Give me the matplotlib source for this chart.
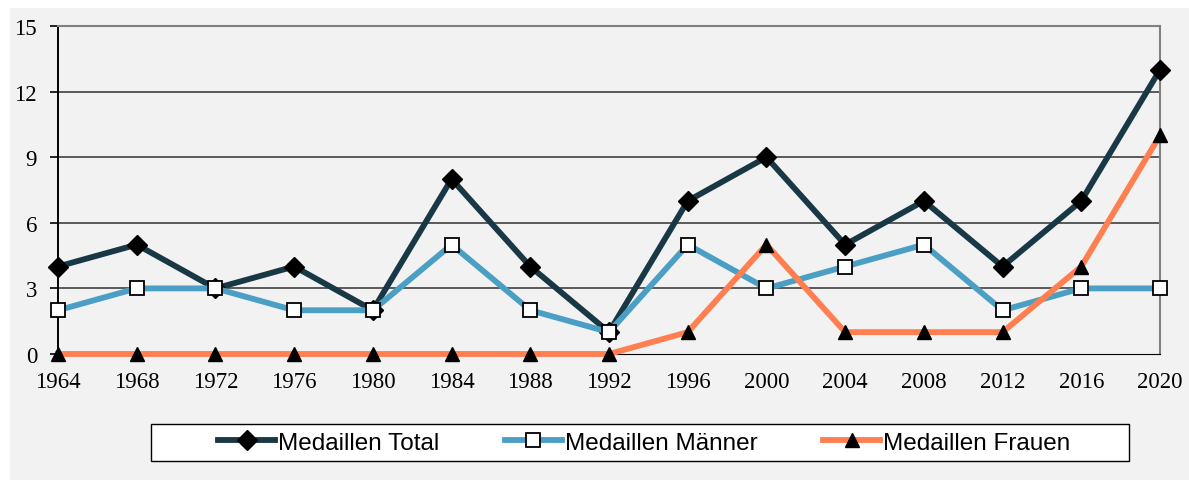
import matplotlib.pyplot as plt
from matplotlib.patches import Rectangle

years = [1964, 1968, 1972, 1976, 1980, 1984, 1988, 1992, 1996, 2000, 2004, 2008, 2012, 2016, 2020]
total = [4, 5, 3, 4, 2, 8, 4, 1, 7, 9, 5, 7, 4, 7, 13]
maenner = [2, 3, 3, 2, 2, 5, 2, 1, 5, 3, 4, 5, 2, 3, 3]
frauen = [0, 0, 0, 0, 0, 0, 0, 0, 1, 5, 1, 1, 1, 4, 10]
yticks = [0, 3, 6, 9, 12, 15]


def main():
    plt.rcParams['font.family'] = ['Liberation Serif', 'DejaVu Serif']
    W, H = 1189, 481
    fig = plt.figure(figsize=(W / 100, H / 100), dpi=100, facecolor="white")
    # grey chart area, leaves a thin white band top and left
    fig.patches.append(Rectangle((10 / W, 0), 1 - 10 / W, 1 - 9 / H,
                                 transform=fig.transFigure, facecolor="#f2f2f2",
                                 edgecolor="none", zorder=-10))
    ax = fig.add_axes([58 / W, 1 - 355 / H, (1160 - 58) / W, (355 - 27) / H])
    ax.set_zorder(1)
    ax.set_facecolor("#f2f2f2")

    for y in yticks[1:-1]:
        ax.axhline(y, color="#404040", linewidth=1.2, zorder=1)

    ax.plot(years, total, color="#193845", linewidth=4.2, marker="D", markersize=10,
            markerfacecolor="black", markeredgecolor="black", clip_on=False, zorder=4,
            label="Medaillen Total")
    ax.plot(years, maenner, color="#4b9fc5", linewidth=4.2, marker="s", markersize=9.5,
            markerfacecolor="white", markeredgecolor="black", markeredgewidth=1.3,
            clip_on=False, zorder=5, label="Medaillen Männer")
    ax.plot(years, frauen, color="#ff7f50", linewidth=4.2, marker="^", markersize=10.5,
            markerfacecolor="black", markeredgecolor="black", clip_on=False, zorder=6,
            label="Medaillen Frauen")

    ax.set_xlim(1964, 2020)
    ax.set_ylim(0, 15)
    ax.set_xticks(years)
    ax.set_yticks(yticks)
    ax.tick_params(axis="x", length=0, pad=12, labelsize=16.5)
    ax.tick_params(axis="y", length=6, width=1.2, color="black", pad=9, labelsize=16.5)

    ax.spines["left"].set_color("black")
    ax.spines["left"].set_linewidth(1.4)
    ax.spines["bottom"].set_color("black")
    ax.spines["top"].set_color("#808080")
    ax.spines["right"].set_color("#808080")
    ax.spines["top"].set_linewidth(1.5)
    ax.spines["right"].set_linewidth(1.5)

    # legend box drawn separately so it can be wider than its entries
    fig.patches.append(Rectangle((151 / W, 1 - 462 / H), (1129 - 151) / W, 37 / H,
                                 transform=fig.transFigure, facecolor="white",
                                 edgecolor="black", linewidth=1.0, zorder=2))
    leg = fig.legend(loc="center left", bbox_to_anchor=(218 / W, 1 - 443.5 / H), ncol=3,
                     frameon=False, prop={"family": "Liberation Sans", "size": 17.5},
                     handlelength=2.35, handletextpad=0.12, columnspacing=2.7,
                     borderpad=0, borderaxespad=0)
    leg.set_zorder(3)

    fig.savefig("out.png", dpi=100, facecolor=fig.get_facecolor())


main()
